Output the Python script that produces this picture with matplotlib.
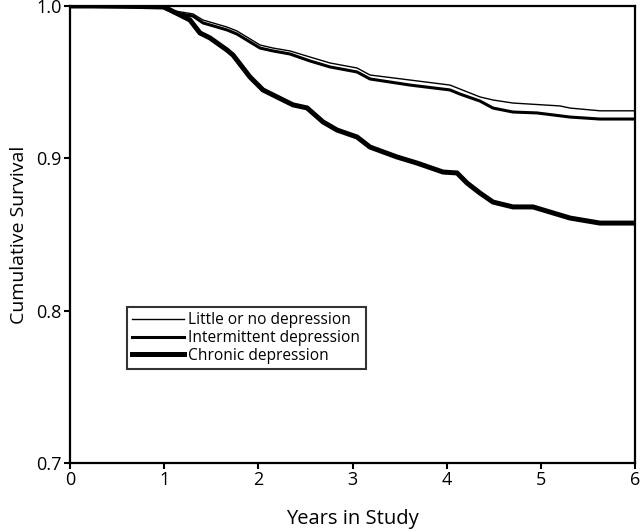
import matplotlib
matplotlib.use("Agg")
import matplotlib.pyplot as plt

plt.rcParams['font.family'] = ['Open Sans', 'DejaVu Sans']

# Kaplan-Meier style survival curves
little_x = [0, 0.99, 1.115, 1.306, 1.412, 1.667, 1.773, 2.018, 2.156, 2.336, 2.549, 2.761,
            3.048, 3.186, 3.611, 4.035, 4.141, 4.354, 4.492, 4.704, 5.203, 5.31, 5.628, 6.0]
little_y = [1.0, 0.9993, 0.9967, 0.9948, 0.9908, 0.9862, 0.9836, 0.9744, 0.9724, 0.9705, 0.9665, 0.9626,
            0.9593, 0.9547, 0.9514, 0.9481, 0.9455, 0.9403, 0.9383, 0.9363, 0.9344, 0.933, 0.9312, 0.9312]

inter_x = [0, 0.99, 1.115, 1.306, 1.412, 1.667, 1.773, 2.018, 2.156, 2.336, 2.549, 2.761,
           3.048, 3.186, 3.611, 4.035, 4.141, 4.354, 4.492, 4.704, 4.959, 5.31, 5.628, 6.0]
inter_y = [1.0, 0.9987, 0.9954, 0.9934, 0.9889, 0.9843, 0.9816, 0.9724, 0.9705, 0.9685, 0.9639, 0.960,
           0.9567, 0.9521, 0.9481, 0.9449, 0.9422, 0.9376, 0.933, 0.9304, 0.9298, 0.9271, 0.9258, 0.9258]

chronic_x = [0, 0.99, 1.062, 1.274, 1.38, 1.487, 1.667, 1.731, 1.911, 2.049, 2.198, 2.368, 2.517,
             2.687, 2.835, 3.048, 3.186, 3.472, 3.685, 3.961, 4.11, 4.216, 4.354, 4.492, 4.704,
             4.917, 5.31, 5.628, 6.0]
chronic_y = [1.0, 1.0, 0.9974, 0.9908, 0.9823, 0.979, 0.9711, 0.9678, 0.9534, 0.9449, 0.9403, 0.9351, 0.9331,
             0.9239, 0.9186, 0.914, 0.9074, 0.9009, 0.8969, 0.891, 0.8904, 0.8838, 0.8772, 0.8713, 0.8681,
             0.8681, 0.8608, 0.8575, 0.8575]

labels = ["Little or no depression", "Intermittent depression", "Chronic depression"]
x_ticks = [0, 1, 2, 3, 4, 5, 6]
y_ticks = [0.7, 0.8, 0.9, 1.0]
y_tick_labels = ["0.7", "0.8", "0.9", "1.0"]

fig = plt.figure(figsize=(6.4, 5.32), dpi=100)
ax = fig.add_axes([70/640, 1 - 463/532, 565/640, 457/532])

ax.plot(chronic_x, chronic_y, color='black', lw=3.6, solid_joinstyle='miter', label=labels[2])
ax.plot(inter_x, inter_y, color='black', lw=2.2, label=labels[1])
ax.plot(little_x, little_y, color='black', lw=1.0, label=labels[0])

ax.set_xlim(0, 6)
ax.set_ylim(0.7, 1.0)
ax.set_xticks(x_ticks)
ax.set_xticklabels([str(t) for t in x_ticks])
ax.set_yticks(y_ticks)
ax.set_yticklabels(y_tick_labels)
ax.tick_params(direction='out', length=4, width=1.5, labelsize=13, pad=2)
for s in ax.spines.values():
    s.set_linewidth(1.6)

ax.set_xlabel("Years in Study", fontsize=14.5, labelpad=14)
ax.set_ylabel("Cumulative Survival", fontsize=14, labelpad=6)

handles, labs = ax.get_legend_handles_labels()
order = [2, 1, 0]
leg = ax.legend([handles[i] for i in order], [labs[i] for i in order],
                loc='upper left', bbox_to_anchor=(57/565, (463 - 307)/457),
                fontsize=11.2, frameon=True, fancybox=False, edgecolor='black',
                handlelength=3.3, handletextpad=0.3, labelspacing=0.1,
                borderpad=0.35, borderaxespad=0)
leg.get_frame().set_linewidth(1.5)

fig.savefig("out.png", dpi=100)
